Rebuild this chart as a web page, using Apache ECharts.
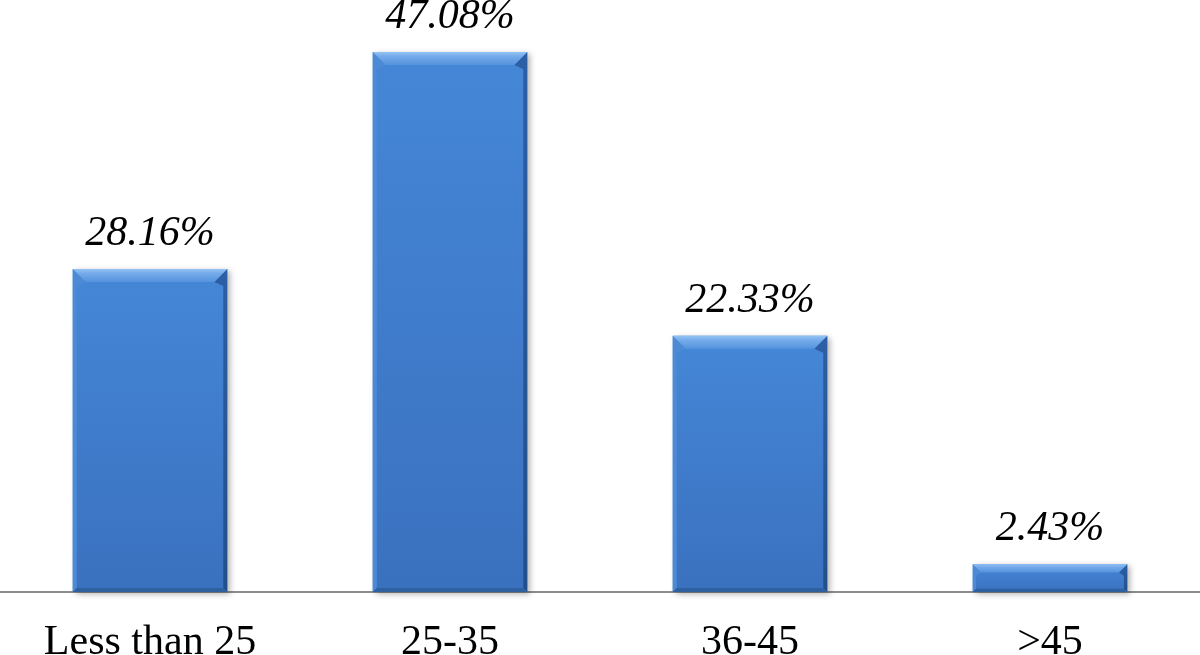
<!DOCTYPE html>
<html><head><meta charset="utf-8">
<script src="https://cdn.jsdelivr.net/npm/echarts@6/dist/echarts.min.js"></script>
<style>html,body{margin:0;padding:0;background:#fff}#c{width:1200px;height:655px}</style>
</head><body><div id="c"></div>
<script>
const categories = ['Less than 25', '25-35', '36-45', '>45'];
const values = [28.16, 47.08, 22.33, 2.43];

const chart = echarts.init(document.getElementById('c'), null, {renderer: 'canvas'});
function renderItem(params, api) {
  const idx = api.value(0), v = api.value(1);
  const top = api.coord([idx, v]);
  const base = api.coord([idx, 0]);
  const w = api.size([1, 0])[0] * 0.515;
  const x0 = top[0] - w / 2, x1 = top[0] + w / 2, y0 = top[1], y1 = base[1];
  const h = y1 - y0;
  const b = Math.min(13, h * 0.3);
  const s = Math.min(4, h * 0.12);
  const children = [
    {type: 'rect', shape: {x: x0, y: y0, width: w, height: h},
     style: {fill: {type: 'linear', x: 0, y: 0, x2: 0, y2: 1, colorStops: [{offset: 0, color: '#4587d7'}, {offset: 1, color: '#3a71bf'}]},
       shadowBlur: 6, shadowOffsetX: 3, shadowOffsetY: 2, shadowColor: 'rgba(0,0,0,0.3)'}},
    {type: 'polygon', shape: {points: [[x0, y0], [x0 + b, y0 + b], [x0 + s, y0 + b + s], [x0 + s, y1 - s], [x0, y1]]},
     style: {fill: '#4d8ad6'}},
    {type: 'polygon', shape: {points: [[x1, y0], [x1 - b, y0 + b], [x1 - s, y0 + b + s], [x1 - s, y1 - s], [x1, y1]]},
     style: {fill: {type: 'linear', x: 0, y: 0, x2: 0, y2: 1, colorStops: [{offset: 0, color: '#2c5fa6'}, {offset: 1, color: '#234f8c'}]}}},
    {type: 'polygon', shape: {points: [[x0, y1], [x0 + s, y1 - s], [x1 - s, y1 - s], [x1, y1]]},
     style: {fill: '#2f609f'}},
    {type: 'polygon', shape: {points: [[x0, y0], [x1, y0], [x1 - b, y0 + b], [x0 + b, y0 + b]]},
     style: {fill: {type: 'linear', x: 0, y: 0, x2: 0, y2: 1, colorStops: [{offset: 0, color: '#94c2f3'}, {offset: 0.35, color: '#74aaea'}, {offset: 1, color: '#5593dd'}]}}},
    {type: 'text', x: top[0], y: y0 - 14,
     style: {text: v.toFixed(2) + '%', fill: '#000', font: 'italic 42px "Liberation Serif", "Times New Roman", serif', align: 'center', verticalAlign: 'bottom'}}
  ];
  return {type: 'group', children: children};
}
chart.setOption({
  animation: false,
  grid: {left: 0, right: 0, top: 18.5, bottom: 63, containLabel: false, outerBoundsMode: 'none'},
  xAxis: {
    type: 'category', data: categories,
    axisLine: {lineStyle: {color: '#8c8c8c', width: 2}},
    axisTick: {show: false},
    axisLabel: {color: '#000', fontSize: 42, fontFamily: '"Liberation Serif", "Times New Roman", serif', margin: 30}
  },
  yAxis: {type: 'value', min: 0, max: 50, show: false, splitLine: {show: false}},
  series: [{
    type: 'custom', renderItem: renderItem,
    data: values.map((v, i) => [i, v]), z: 1
  }]
});
</script></body></html>
